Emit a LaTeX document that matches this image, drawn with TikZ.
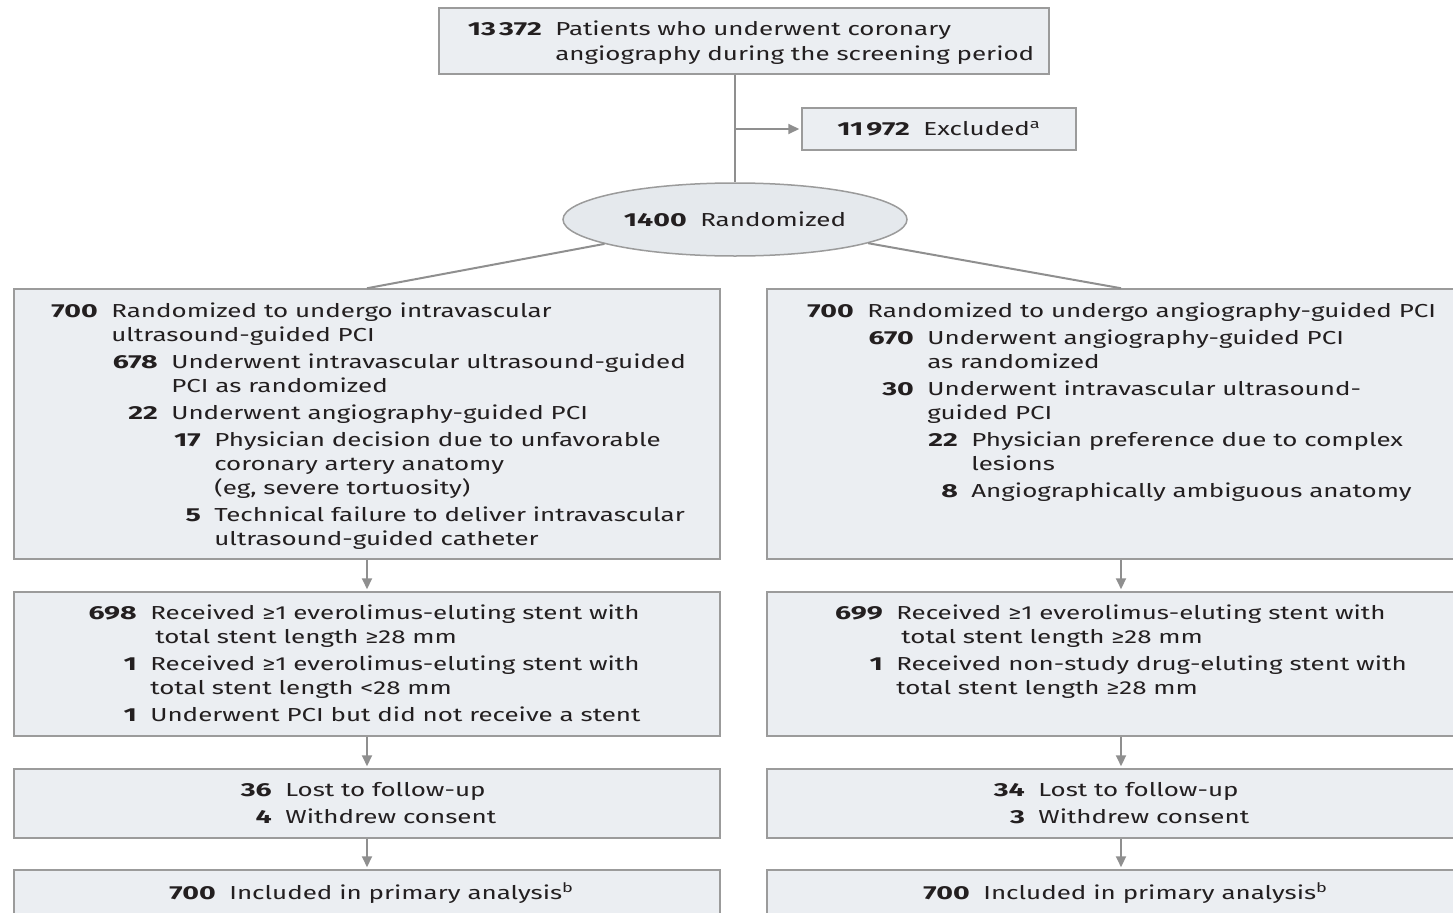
\documentclass[tikz,border=0pt]{standalone}
\usepackage{fontspec}
\setmainfont{Fira Sans}[FakeStretch=1.38, BoldFeatures={FakeStretch=1.52}]
\usepackage{tikz}
\usetikzlibrary{arrows.meta,shapes.geometric}
\definecolor{cfink}{HTML}{231F20}
\definecolor{cfbox}{HTML}{EBEEF2}
\definecolor{cfoval}{HTML}{E5E9ED}
\definecolor{cfline}{HTML}{9B9B9B}
\definecolor{cfconn}{HTML}{8F8F8F}
\newlength{\pxu}\setlength{\pxu}{0.2mm}
% count row: number right-aligned before the text column
\newcommand{\nrow}[3]{\hspace*{#1\pxu}\llap{\bfseries #2\hspace{2.7mm}}#3}
\newcommand{\crow}[2]{\hspace*{#1\pxu}#2}
% rows hang from the baseline of the first one
\newcommand{\rowblock}[1]{\begin{tabular}[t]{@{}l@{}}#1\end{tabular}}
\begin{document}
\begin{tikzpicture}[x=0.2mm, y=-0.2mm,
    font=\fontsize{10.7}{13.66}\selectfont, text=cfink,
    box/.style={draw=cfline, fill=cfbox, line width=0.3mm, inner sep=0pt},
    txt/.style={anchor=base west, inner sep=0pt},
    ln/.style={draw=cfconn, line width=0.4mm},
    arr/.style={ln, shorten >=0.4mm, -{Triangle[length=2.2mm, width=2mm]}},
  ]
  \clip (0,0) rectangle (1453,912);

  % screening and randomization
  \node[box, minimum width=122mm, minimum height=13.2mm] (screen) at (744,41) {};
  \node[txt] (screentxt) at (439,36)
    {\rowblock{\nrow{116}{13\,372}{Patients who underwent coronary}\\
     \crow{116}{angiography during the screening period}}};
  \node[box, minimum width=54.8mm, minimum height=8.4mm] (excl) at (939,129)
    {\textbf{11\,972}\hspace{2.7mm}Excluded\textsuperscript{a}};
  \node[ellipse, draw=cfline, fill=cfoval, line width=0.3mm, inner sep=0pt,
        minimum width=68.8mm, minimum height=14.6mm] (rand) at (735,219.5)
    {\textbf{1400}\hspace{2.7mm}Randomized};

  % intravascular ultrasound arm
  \node[box, minimum width=141.2mm, minimum height=54mm] (ivus) at (367,424) {};
  \node[txt] (ivustxt) at (14,317)
    {\rowblock{\nrow{97}{700}{Randomized to undergo intravascular}\\
     \crow{97}{ultrasound-guided PCI}\\[0.6mm]
     \nrow{157}{678}{Underwent intravascular ultrasound-guided}\\
     \crow{157}{PCI as randomized}\\[0.6mm]
     \nrow{157}{22}{Underwent angiography-guided PCI}\\[0.6mm]
     \nrow{200}{17}{Physician decision due to unfavorable}\\
     \crow{200}{coronary artery anatomy}\\
     \crow{200}{(eg, severe tortuosity)}\\[0.6mm]
     \nrow{200}{5}{Technical failure to deliver intravascular}\\
     \crow{200}{ultrasound-guided catheter}}};
  \node[box, minimum width=141.2mm, minimum height=28.8mm] (ivusstent) at (367,664) {};
  \node[txt] (ivusstenttxt) at (14,619)
    {\rowblock{\nrow{136}{698}{Received ≥1 everolimus-eluting stent with}\\
     \crow{141}{total stent length ≥28 mm}\\[0.6mm]
     \nrow{136}{1}{Received ≥1 everolimus-eluting stent with}\\
     \crow{136}{total stent length <28 mm}\\[0.6mm]
     \nrow{136}{1}{Underwent PCI but did not receive a stent}}};
  \node[box, minimum width=141.2mm, minimum height=13.8mm] (ivusfu) at (367,803.5) {};
  \node[txt] (ivusfutxt) at (14,796)
    {\rowblock{\nrow{271}{36}{Lost to follow-up}\\[0.6mm]
     \nrow{271}{4}{Withdrew consent}}};
  \node[box, minimum width=141.2mm, minimum height=14mm] (ivusan) at (367,905) {};
  \node[txt] (ivusantxt) at (14,899)
    {\nrow{215}{700}{Included in primary analysis\textsuperscript{b}}};

  % angiography arm
  \node[box, minimum width=141.6mm, minimum height=54mm] (angio) at (1121,424) {};
  \node[txt] (angiotxt) at (767,317)
    {\rowblock{\nrow{100}{700}{Randomized to undergo angiography-guided PCI}\\[0.6mm]
     \nrow{160}{670}{Underwent angiography-guided PCI}\\
     \crow{160}{as randomized}\\[0.6mm]
     \nrow{160}{30}{Underwent intravascular ultrasound-}\\
     \crow{160}{guided PCI}\\[0.6mm]
     \nrow{204}{22}{Physician preference due to complex}\\
     \crow{204}{lesions}\\[0.6mm]
     \nrow{204}{8}{Angiographically ambiguous anatomy}}};
  \node[box, minimum width=141.6mm, minimum height=28.8mm] (angiostent) at (1121,664) {};
  \node[txt] (angiostenttxt) at (767,619)
    {\rowblock{\nrow{129}{699}{Received ≥1 everolimus-eluting stent with}\\
     \crow{134}{total stent length ≥28 mm}\\[0.6mm]
     \nrow{129}{1}{Received non-study drug-eluting stent with}\\
     \crow{129}{total stent length ≥28 mm}}};
  \node[box, minimum width=141.6mm, minimum height=13.8mm] (angiofu) at (1121,803.5) {};
  \node[txt] (angiofutxt) at (767,796)
    {\rowblock{\nrow{271}{34}{Lost to follow-up}\\[0.6mm]
     \nrow{271}{3}{Withdrew consent}}};
  \node[box, minimum width=141.6mm, minimum height=14mm] (angioan) at (1121,905) {};
  \node[txt] (angioantxt) at (767,899)
    {\nrow{216}{700}{Included in primary analysis\textsuperscript{b}}};

  % connectors
  \draw[ln] (rand.north |- screen.south) -- (rand.north);
  \draw[arr] (rand.north |- excl.west) -- (excl.west);
  \draw[ln] (rand) -- (ivus.north);
  \draw[ln] (rand) -- (angio.north);
  \foreach \a/\b in {ivus/ivusstent, ivusstent/ivusfu, ivusfu/ivusan,
                     angio/angiostent, angiostent/angiofu, angiofu/angioan}
    \draw[arr] (\a) -- (\b);
\end{tikzpicture}
\end{document}
